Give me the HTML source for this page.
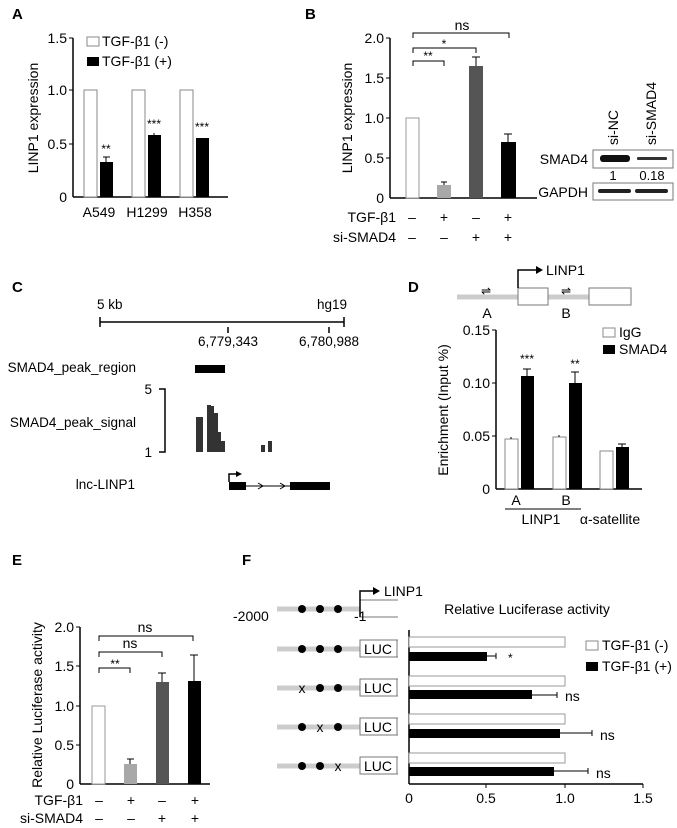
<!DOCTYPE html><html><head><style>body{margin:0;background:#fff}svg{display:block;font-family:"Liberation Sans",Arial,sans-serif}</style></head><body>
<svg width="677" height="828" viewBox="0 0 677 828">
<g font-weight="bold" font-size="15"><text x="12" y="19">A</text><text x="305" y="19">B</text><text x="12" y="292">C</text><text x="408" y="292">D</text><text x="12" y="565">E</text><text x="242" y="565">F</text></g>
<!-- A -->
<g font-size="14" fill="#000">
<line x1="73" y1="38" x2="73" y2="197" stroke="#000" stroke-width="1.5"/><line x1="73" y1="197" x2="228" y2="197" stroke="#000" stroke-width="1.5"/>
<g stroke="#000"><line x1="69" y1="38" x2="73" y2="38"/><line x1="69" y1="90" x2="73" y2="90"/><line x1="69" y1="144" x2="73" y2="144"/></g>
<g text-anchor="end"><text x="67" y="43">1.5</text><text x="67" y="95">1.0</text><text x="67" y="149">0.5</text><text x="67" y="202">0</text></g>
<text transform="translate(38,118) rotate(-90)" text-anchor="middle">LINP1 expression</text>
<g fill="#fff" stroke="#888"><rect x="84" y="90" width="13" height="107"/><rect x="132" y="90" width="13" height="107"/><rect x="180" y="90" width="13" height="107"/></g>
<rect x="100" y="162" width="13" height="35"/><rect x="148" y="135" width="13" height="62"/><rect x="196" y="138" width="13" height="59"/>
<g stroke="#000"><line x1="106" y1="162" x2="106" y2="157"/><line x1="103" y1="157" x2="110" y2="157"/><line x1="154" y1="135" x2="154" y2="133"/></g>
<g text-anchor="middle" font-size="12"><text x="106" y="153">**</text><text x="154" y="128">***</text><text x="202" y="131">***</text></g>
<g text-anchor="middle"><text x="99" y="217">A549</text><text x="147" y="217">H1299</text><text x="195" y="217">H358</text></g>
<rect x="87" y="37" width="12" height="9" fill="#fff" stroke="#888"/><text x="102" y="46">TGF-β1 (-)</text>
<rect x="87" y="57" width="12" height="9"/><text x="102" y="66">TGF-β1 (+)</text>
</g>
<!-- B -->
<g font-size="14">
<line x1="390" y1="38" x2="390" y2="198" stroke="#000" stroke-width="1.5"/><line x1="390" y1="198" x2="537" y2="198" stroke="#000" stroke-width="1.5"/>
<g stroke="#000"><line x1="386" y1="38" x2="390" y2="38"/><line x1="386" y1="78" x2="390" y2="78"/><line x1="386" y1="118" x2="390" y2="118"/><line x1="386" y1="158" x2="390" y2="158"/></g>
<g text-anchor="end"><text x="384" y="43">2.0</text><text x="384" y="83">1.5</text><text x="384" y="123">1.0</text><text x="384" y="163">0.5</text><text x="384" y="203">0</text></g>
<text transform="translate(352,118) rotate(-90)" text-anchor="middle">LINP1 expression</text>
<rect x="406" y="118" width="13" height="80" fill="#fff" stroke="#999"/>
<rect x="437" y="185" width="14" height="13" fill="#a8a8a8"/><rect x="469" y="66" width="14" height="132" fill="#555"/><rect x="501" y="142" width="15" height="56" fill="#000"/>
<g stroke="#000"><line x1="444" y1="185" x2="444" y2="182"/><line x1="441" y1="182" x2="447" y2="182"/><line x1="476" y1="66" x2="476" y2="57"/><line x1="472" y1="57" x2="480" y2="57"/><line x1="508" y1="142" x2="508" y2="134"/><line x1="504" y1="134" x2="512" y2="134"/></g>
<g fill="none" stroke="#000"><path d="M413 38V33H509V38"/><path d="M413 53V48H476V53"/><path d="M413 66V61H444V66"/></g>
<g text-anchor="middle"><text x="462" y="30">ns</text><text x="444" y="48" font-size="12">*</text><text x="428" y="60" font-size="12">**</text>
<text x="412" y="222">–</text><text x="444" y="222">+</text><text x="476" y="222">–</text><text x="508" y="222">+</text>
<text x="412" y="242">–</text><text x="444" y="242">–</text><text x="476" y="242">+</text><text x="508" y="242">+</text></g>
<g text-anchor="end"><text x="396" y="222">TGF-β1</text><text x="396" y="242">si-SMAD4</text></g>
<rect x="593" y="150" width="80" height="18" fill="#fff" stroke="#777"/><rect x="593" y="183" width="80" height="17" fill="#fff" stroke="#777"/>
<rect x="600" y="155" width="30" height="7" rx="3" fill="#111"/><rect x="637" y="157" width="30" height="3" rx="1" fill="#333"/>
<rect x="598" y="189" width="33" height="4" rx="2" fill="#222"/><rect x="635" y="189" width="33" height="4" rx="2" fill="#222"/>
<text x="588" y="164" text-anchor="end">SMAD4</text><text x="588" y="197" text-anchor="end">GAPDH</text>
<text x="613" y="180" text-anchor="middle" font-size="13">1</text><text x="652" y="180" text-anchor="middle" font-size="13">0.18</text>
<text transform="translate(618,145) rotate(-90)">si-NC</text><text transform="translate(656,145) rotate(-90)">si-SMAD4</text>
</g>
<!-- C -->
<g font-size="13.5">
<line x1="100" y1="322" x2="344" y2="322" stroke="#000" stroke-width="1.5"/>
<g stroke="#000" stroke-width="1.5"><line x1="100" y1="317" x2="100" y2="327"/><line x1="344" y1="317" x2="344" y2="327"/><line x1="228" y1="327" x2="228" y2="333"/><line x1="329" y1="327" x2="329" y2="333"/></g>
<text x="97" y="309">5 kb</text><text x="317" y="309">hg19</text>
<text x="228" y="346" text-anchor="middle">6,779,343</text><text x="329" y="346" text-anchor="middle">6,780,988</text>
<g text-anchor="end"><text x="136" y="372">SMAD4_peak_region</text><text x="136" y="427">SMAD4_peak_signal</text><text x="135" y="489">lnc-LINP1</text></g>
<rect x="195" y="365" width="30" height="8"/>
<path d="M159 389H165V452H159" fill="none" stroke="#000" stroke-width="1.5"/>
<text x="152" y="394" text-anchor="end">5</text><text x="152" y="457" text-anchor="end">1</text>
<rect x="196" y="417" width="7" height="35" fill="#333"/>
<path d="M207 452V405H211V406H214V413H218V432H221V441H225V452Z" fill="#333"/>
<rect x="261" y="445" width="4" height="7" fill="#333"/><rect x="268" y="441" width="4" height="11" fill="#333"/>
<rect x="229" y="482" width="17" height="8"/><rect x="290" y="482" width="40" height="8"/>
<line x1="246" y1="486" x2="290" y2="486" stroke="#000"/>
<path d="M258 483L263 486L258 489M280 483L285 486L280 489" fill="none" stroke="#000"/>
<path d="M229 482V474H238" fill="none" stroke="#000" stroke-width="1.5"/><path d="M236 471L242 474L236 477Z"/>
</g>
<!-- D -->
<g font-size="14">
<line x1="457" y1="297" x2="630" y2="297" stroke="#ccc" stroke-width="5"/>
<rect x="518" y="288" width="30" height="17" fill="#fff" stroke="#777"/><rect x="589" y="288" width="42" height="17" fill="#fff" stroke="#777"/>
<path d="M518 288V270H538" fill="none" stroke="#000" stroke-width="1.5"/><path d="M536 266L543 270L536 274Z"/>
<text x="546" y="275">LINP1</text>
<text x="486" y="295" text-anchor="middle" font-size="12">⇌</text><text x="566" y="295" text-anchor="middle" font-size="12">⇌</text>
<text x="487" y="318" text-anchor="middle">A</text><text x="566" y="318" text-anchor="middle">B</text>
<line x1="496" y1="330" x2="496" y2="489" stroke="#000" stroke-width="1.5"/><line x1="496" y1="489" x2="642" y2="489" stroke="#000" stroke-width="1.5"/>
<g stroke="#000"><line x1="492" y1="330" x2="496" y2="330"/><line x1="492" y1="383" x2="496" y2="383"/><line x1="492" y1="436" x2="496" y2="436"/></g>
<g text-anchor="end"><text x="490" y="335">0.15</text><text x="490" y="388">0.10</text><text x="490" y="441">0.05</text><text x="490" y="494">0</text></g>
<text transform="translate(448,410) rotate(-90)" text-anchor="middle">Enrichment (Input %)</text>
<g fill="#fff" stroke="#888"><rect x="505" y="439" width="13" height="50"/><rect x="553" y="437" width="13" height="52"/><rect x="600" y="451" width="13" height="38"/></g>
<rect x="521" y="376" width="13" height="113"/><rect x="569" y="383" width="13" height="106"/><rect x="616" y="447" width="13" height="42"/>
<g stroke="#000"><line x1="527" y1="376" x2="527" y2="369"/><line x1="523" y1="369" x2="531" y2="369"/><line x1="575" y1="383" x2="575" y2="372"/><line x1="571" y1="372" x2="579" y2="372"/><line x1="622" y1="447" x2="622" y2="444"/><line x1="618" y1="444" x2="626" y2="444"/><line x1="511" y1="439" x2="511" y2="437"/><line x1="559" y1="437" x2="559" y2="435"/></g>
<g text-anchor="middle" font-size="12"><text x="527" y="363">***</text><text x="575" y="368">**</text></g>
<g text-anchor="middle"><text x="516" y="505">A</text><text x="566" y="505">B</text><text x="541" y="524">LINP1</text><text x="610" y="524">α-satellite</text></g>
<line x1="505" y1="509" x2="581" y2="509" stroke="#000"/>
<rect x="603" y="328" width="12" height="9" fill="#fff" stroke="#888"/><text x="619" y="337">IgG</text>
<rect x="603" y="345" width="12" height="9"/><text x="619" y="354">SMAD4</text>
</g>
<!-- E -->
<g font-size="14">
<line x1="80" y1="627" x2="80" y2="784" stroke="#000" stroke-width="1.5"/><line x1="80" y1="784" x2="210" y2="784" stroke="#000" stroke-width="1.5"/>
<g stroke="#000"><line x1="76" y1="627" x2="80" y2="627"/><line x1="76" y1="666" x2="80" y2="666"/><line x1="76" y1="706" x2="80" y2="706"/><line x1="76" y1="745" x2="80" y2="745"/></g>
<g text-anchor="end"><text x="74" y="632">2.0</text><text x="74" y="671">1.5</text><text x="74" y="711">1.0</text><text x="74" y="750">0.5</text><text x="74" y="789">0</text></g>
<text transform="translate(42,705) rotate(-90)" text-anchor="middle">Relative Luciferase activity</text>
<rect x="92" y="706" width="13" height="78" fill="#fff" stroke="#999"/>
<rect x="124" y="764" width="13" height="20" fill="#a8a8a8"/><rect x="156" y="682" width="13" height="102" fill="#555"/><rect x="188" y="681" width="13" height="103" fill="#000"/>
<g stroke="#000"><line x1="130" y1="764" x2="130" y2="759"/><line x1="127" y1="759" x2="134" y2="759"/><line x1="162" y1="682" x2="162" y2="673"/><line x1="158" y1="673" x2="166" y2="673"/><line x1="194" y1="681" x2="194" y2="655"/><line x1="190" y1="655" x2="198" y2="655"/></g>
<g fill="none" stroke="#000"><path d="M99 641V636H193V641"/><path d="M99 657V652H162V657"/><path d="M99 673V668H130V673"/></g>
<g text-anchor="middle"><text x="145" y="632">ns</text><text x="130" y="648">ns</text><text x="115" y="668" font-size="12">**</text>
<text x="99" y="805">–</text><text x="131" y="805">+</text><text x="162" y="805">–</text><text x="195" y="805">+</text>
<text x="99" y="823">–</text><text x="131" y="823">–</text><text x="162" y="823">+</text><text x="195" y="823">+</text></g>
<g text-anchor="end"><text x="83" y="805">TGF-β1</text><text x="83" y="823">si-SMAD4</text></g>
</g>
<!-- F -->
<g font-size="14">
<line x1="277" y1="609" x2="360" y2="609" stroke="#ccc" stroke-width="5"/>
<g><circle cx="302" cy="609" r="4"/><circle cx="320" cy="609" r="4"/><circle cx="338" cy="609" r="4"/></g>
<path d="M398 600H360V617H398" fill="none" stroke="#777"/>
<path d="M360 617V591H375" fill="none" stroke="#000" stroke-width="1.5"/><path d="M373 587L380 591L373 595Z"/>
<text x="384" y="596">LINP1</text>
<text x="233" y="621">-2000</text><text x="354" y="621">-1</text>
<text x="527" y="614" text-anchor="middle">Relative Luciferase activity</text>
<g id="r1">
<line x1="277" y1="649" x2="360" y2="649" stroke="#ccc" stroke-width="5"/>
<rect x="360" y="640" width="37" height="17" fill="#fff" stroke="#777"/><text x="378" y="654" text-anchor="middle">LUC</text>
<path d="M397 640H398M397 657H398" stroke="#777"/>
</g>
<use href="#r1" y="39"/><use href="#r1" y="78"/><use href="#r1" y="117"/>
<circle cx="302" cy="649" r="4"/><circle cx="320" cy="649" r="4"/><circle cx="338" cy="649" r="4"/>
<text x="302" y="693" text-anchor="middle">x</text><circle cx="320" cy="688" r="4"/><circle cx="338" cy="688" r="4"/>
<circle cx="302" cy="727" r="4"/><text x="320" y="732" text-anchor="middle">x</text><circle cx="338" cy="727" r="4"/>
<circle cx="302" cy="766" r="4"/><circle cx="320" cy="766" r="4"/><text x="338" y="771" text-anchor="middle">x</text>
<line x1="409" y1="630" x2="409" y2="784" stroke="#000" stroke-width="1.5"/><line x1="409" y1="784" x2="643" y2="784" stroke="#000" stroke-width="1.5"/>
<g stroke="#000"><line x1="486" y1="784" x2="486" y2="788"/><line x1="565" y1="784" x2="565" y2="788"/><line x1="643" y1="784" x2="643" y2="788"/></g>
<g text-anchor="middle"><text x="409" y="803">0</text><text x="486" y="803">0.5</text><text x="565" y="803">1.0</text><text x="643" y="803">1.5</text></g>
<g fill="#fff" stroke="#999"><rect x="409" y="637" width="156" height="10"/><rect x="409" y="676" width="156" height="10"/><rect x="409" y="714" width="156" height="10"/><rect x="409" y="753" width="156" height="10"/></g>
<rect x="409" y="652" width="78" height="9"/><rect x="409" y="690" width="123" height="9"/><rect x="409" y="729" width="151" height="9"/><rect x="409" y="767" width="145" height="9"/>
<g stroke="#000"><path d="M487 656H496M496 653V659"/><path d="M532 695H557M557 692V698"/><path d="M560 733H592M592 730V736"/><path d="M554 771H588M588 768V774"/></g>
<text x="508" y="662" font-size="12">*</text><text x="565" y="701">ns</text><text x="600" y="740">ns</text><text x="596" y="778">ns</text>
<rect x="586" y="641" width="12" height="9" fill="#fff" stroke="#888"/><text x="602" y="650">TGF-β1 (-)</text>
<rect x="586" y="662" width="12" height="9"/><text x="602" y="671">TGF-β1 (+)</text>
</g>
</svg></body></html>
